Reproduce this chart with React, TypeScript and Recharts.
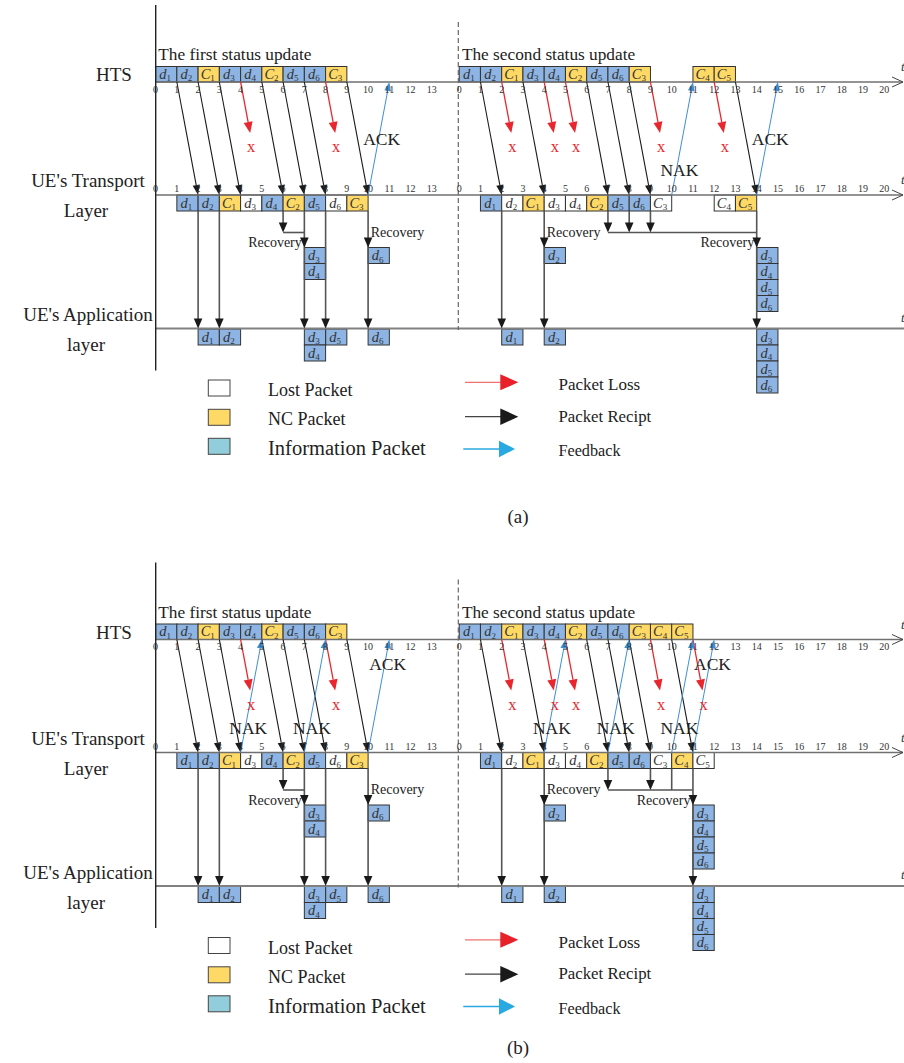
import React from 'react';
import { ComposedChart, XAxis, YAxis, Scatter, ReferenceArea, ReferenceLine, ReferenceDot } from 'recharts';

const W = 904;
const H = 1063;
const SERIF = '"Liberation Serif", "Times New Roman", serif';

// x is measured in time slots; the first timeline starts at slot 0
const SLOT_PX = 21.25;
const ORIGIN_PX = 155.6;
const ux = (px: number) => (px - ORIGIN_PX) / SLOT_PX;
const X_DOMAIN: [number, number] = [ux(0), ux(W)];
const SECOND = ux(459.2);

// vertical layout of one panel (page px), panel (b) is shifted down
const PANEL_DY = [0, 557.5];
const Y = {
  title: 60, htsTop: 66.5, hts: 82, htsTick: 92.5, trTick: 192, tr: 195, trBot: 211,
  lossEnd: 133, lossMark: 152, feed: 232.5, rec: 247.5, app: 328.5, appBox: 329,
  axisTop: 5, axisBot: 370.5, dashTop: 22, dashBot: 330,
};
const BOX_H = 16;

const COLORS: Record<string, string> = {
  d: '#8DB4E2', C: '#FFD966', lost: '#FFFFFF', legendInfo: '#92CDDC',
  red: '#E8262D', blue: '#3D8FD6', legendBlue: '#29A9E1', black: '#1a1a1a',
  drop: '#555555', axis: '#707070', text: '#222222',
};

// tick labels
const TICKS_FIRST = [0, 1, 2, 3, 4, 5, 6, 7, 8, 9, 10, 11, 12, 13];
const TICKS_SECOND = [0, 1, 2, 3, 4, 5, 6, 7, 8, 9, 10, 11, 12, 13, 14, 15, 16, 17, 18, 19, 20];

// packets sent by the HTS, their slots and whether they were lost (1)
const FIRST_PACKETS = ['d1', 'd2', 'C1', 'd3', 'd4', 'C2', 'd5', 'd6', 'C3'];
const FIRST_SLOTS = [0, 1, 2, 3, 4, 5, 6, 7, 8];
const FIRST_LOST = [0, 0, 0, 1, 0, 0, 0, 1, 0];

const SECOND_PACKETS = ['d1', 'd2', 'C1', 'd3', 'd4', 'C2', 'd5', 'd6', 'C3', 'C4', 'C5'];
const A2_SLOTS = [0, 1, 2, 3, 4, 5, 6, 7, 8, 11, 12];
const A2_LOST = [0, 1, 0, 1, 1, 0, 0, 0, 1, 1, 0];
const B2_SLOTS = [0, 1, 2, 3, 4, 5, 6, 7, 8, 9, 10];
const B2_LOST = [0, 1, 0, 1, 1, 0, 0, 0, 1, 0, 1];

// feedback: transport slot -> HTS slot
type Fb = { from: number; to: number; kind: string };
const A1_FEEDBACK: Fb[] = [{ from: 10, to: 11, kind: 'ACK' }];
const A2_FEEDBACK: Fb[] = [{ from: 10, to: 11, kind: 'NAK' }, { from: 14, to: 15, kind: 'ACK' }];
const B1_FEEDBACK: Fb[] = [{ from: 4, to: 5, kind: 'NAK' }, { from: 7, to: 8, kind: 'NAK' }, { from: 10, to: 11, kind: 'ACK' }];
const B2_FEEDBACK: Fb[] = [
  { from: 4, to: 5, kind: 'NAK' }, { from: 7, to: 8, kind: 'NAK' },
  { from: 10, to: 11, kind: 'NAK' }, { from: 11, to: 12, kind: 'ACK' },
];

// direct delivery to the application layer
type Dl = { at: number; pkts: string[] };
const FIRST_DELIVER: Dl[] = [{ at: 2, pkts: ['d1'] }, { at: 3, pkts: ['d2'] }, { at: 8, pkts: ['d5'] }];
const SECOND_DELIVER: Dl[] = [{ at: 2, pkts: ['d1'] }];

// decoding: packets feeding the decoder, decode slot and recovered packets
type Rc = { feeds: number[]; plain: number[]; at: number; pkts: string[] };
const FIRST_RECOVER: Rc[] = [
  { feeds: [6], plain: [], at: 7, pkts: ['d3', 'd4'] },
  { feeds: [], plain: [], at: 10, pkts: ['d6'] },
];
const A2_RECOVER: Rc[] = [
  { feeds: [], plain: [], at: 4, pkts: ['d2'] },
  { feeds: [7, 8, 9], plain: [], at: 14, pkts: ['d3', 'd4', 'd5', 'd6'] },
];
const B2_RECOVER: Rc[] = [
  { feeds: [], plain: [], at: 4, pkts: ['d2'] },
  { feeds: [7, 9], plain: [10], at: 11, pkts: ['d3', 'd4', 'd5', 'd6'] },
];

interface Half {
  offset: number; ticks: number[]; title: string; labels: string[]; slots: number[];
  lost: number[]; feedback: Fb[]; deliver: Dl[]; recover: Rc[];
}

const PANELS: { ackT: number; halves: Half[] }[] = [
  {
    ackT: 0.5,
    halves: [
      { offset: 0, ticks: TICKS_FIRST, title: 'The first status update', labels: FIRST_PACKETS, slots: FIRST_SLOTS, lost: FIRST_LOST, feedback: A1_FEEDBACK, deliver: FIRST_DELIVER, recover: FIRST_RECOVER },
      { offset: SECOND, ticks: TICKS_SECOND, title: 'The second status update', labels: SECOND_PACKETS, slots: A2_SLOTS, lost: A2_LOST, feedback: A2_FEEDBACK, deliver: SECOND_DELIVER, recover: A2_RECOVER },
    ],
  },
  {
    ackT: 0.78,
    halves: [
      { offset: 0, ticks: TICKS_FIRST, title: 'The first status update', labels: FIRST_PACKETS, slots: FIRST_SLOTS, lost: FIRST_LOST, feedback: B1_FEEDBACK, deliver: FIRST_DELIVER, recover: FIRST_RECOVER },
      { offset: SECOND, ticks: TICKS_SECOND, title: 'The second status update', labels: SECOND_PACKETS, slots: B2_SLOTS, lost: B2_LOST, feedback: B2_FEEDBACK, deliver: SECOND_DELIVER, recover: B2_RECOVER },
    ],
  },
];

const packetShape = (label: string, fill: string) => (p: any) => {
  const { x, y, width, height } = p;
  return (
    <g>
      <rect x={x} y={y} width={width} height={height} fill={fill} stroke="#333" strokeWidth={1} />
      <text x={x + width / 2 - 1} y={y + height / 2 + 4.5} textAnchor="middle" fontFamily={SERIF} fill="#333">
        <tspan fontSize={14.5} fontStyle="italic">{label[0]}</tspan>
        <tspan fontSize={9} dy={2.5}>{label.slice(1)}</tspan>
      </text>
    </g>
  );
};

const plainBox = (fill: string) => (p: any) => (
  <rect x={p.x} y={p.y} width={p.width} height={p.height} fill={fill} stroke="#444" strokeWidth={1} />
);

const arrowShape = (color: string, width: number, head = 0, half = 0, dash?: string) => (p: any) => {
  const x1 = Number(p.x1), y1 = Number(p.y1), x2 = Number(p.x2), y2 = Number(p.y2);
  const len = Math.hypot(x2 - x1, y2 - y1) || 1;
  const dx = (x2 - x1) / len, dy = (y2 - y1) / len;
  const bx = x2 - dx * head, by = y2 - dy * head;
  const nx = -dy * half, ny = dx * half;
  return (
    <g>
      <line x1={x1} y1={y1} x2={head ? bx : x2} y2={head ? by : y2} stroke={color} strokeWidth={width} strokeDasharray={dash} />
      {head > 0 && <polygon points={`${x2},${y2} ${bx + nx},${by + ny} ${bx - nx},${by - ny}`} fill={color} />}
    </g>
  );
};

const textShape = (str: string, size: number, color = COLORS.text, anchor = 'middle', italic = false) => (p: any) => (
  <text x={p.cx} y={p.cy} fontSize={size} fill={color} textAnchor={anchor} fontFamily={SERIF} fontStyle={italic ? 'italic' : 'normal'}>
    {str}
  </text>
);

function halfElements(h: Half, dy: number, ackT: number, key: string) {
  const els: React.ReactNode[] = [];
  const o = h.offset;
  let n = 0;
  const K = () => `${key}-${n++}`;
  const seg = (x1: number, y1: number, x2: number, y2: number, shape: any) => (
    <ReferenceLine key={K()} segment={[{ x: x1, y: y1 }, { x: x2, y: y2 }]} ifOverflow="visible" shape={shape} />
  );
  const txt = (x: number, y: number, shape: any) => (
    <ReferenceDot key={K()} x={x} y={y} r={0} ifOverflow="visible" shape={shape} />
  );
  const box = (x: number, y1: number, y2: number, label: string, fill: string) => (
    <ReferenceArea key={K()} x1={x} x2={x + 1} y1={y1} y2={y2} ifOverflow="visible" shape={packetShape(label, fill)} />
  );

  els.push(txt(o + ux(158.3) - ux(155.6), dy + Y.title, textShape(h.title, 17.3, COLORS.text, 'start')));

  h.ticks.forEach((t) => {
    els.push(txt(o + t, dy + Y.htsTick, textShape(String(t), 10, '#333')));
    els.push(txt(o + t, dy + Y.trTick, textShape(String(t), 10, '#333')));
  });

  const blackArrow = arrowShape(COLORS.black, 1.1, 10, 3.6);
  const dropArrow = arrowShape(COLORS.black, 1, 10, 4.3);
  const dropLine = arrowShape(COLORS.drop, 1.6);

  // deliveries and recoveries (drawn first, behind packets)
  h.deliver.forEach((d) => {
    els.push(seg(o + d.at, dy + Y.trBot, o + d.at, dy + Y.app - 9, dropLine));
    els.push(seg(o + d.at, dy + Y.app - 10, o + d.at, dy + Y.app, dropArrow));
    d.pkts.forEach((pk, j) => els.push(box(o + d.at, dy + Y.appBox + j * BOX_H, dy + Y.appBox + (j + 1) * BOX_H, pk, COLORS.d)));
  });

  h.recover.forEach((r) => {
    const starts = [...r.feeds, ...r.plain];
    r.feeds.forEach((f) => {
      els.push(seg(o + f, dy + Y.trBot, o + f, dy + Y.feed - 9, dropLine));
      els.push(seg(o + f, dy + Y.feed - 10, o + f, dy + Y.feed, dropArrow));
    });
    r.plain.forEach((f) => els.push(seg(o + f, dy + Y.trBot, o + f, dy + Y.feed, dropLine)));
    if (starts.length) {
      els.push(seg(o + Math.min(...starts), dy + Y.feed, o + r.at, dy + Y.feed, dropLine));
      els.push(txt(o + r.at - 0.12, dy + Y.rec - 0.5, textShape('Recovery', 14, COLORS.text, 'end')));
    } else {
      els.push(txt(o + r.at + 0.12, dy + Y.feed + 4, textShape('Recovery', 14, COLORS.text, 'start')));
    }
    els.push(seg(o + r.at, dy + Y.trBot, o + r.at, dy + Y.app - 9, dropLine));
    els.push(seg(o + r.at, dy + Y.rec - 10, o + r.at, dy + Y.rec, dropArrow));
    els.push(seg(o + r.at, dy + Y.app - 10, o + r.at, dy + Y.app, dropArrow));
    r.pkts.forEach((pk, j) => {
      els.push(box(o + r.at, dy + Y.rec + j * BOX_H, dy + Y.rec + (j + 1) * BOX_H, pk, COLORS.d));
      els.push(box(o + r.at, dy + Y.appBox + j * BOX_H, dy + Y.appBox + (j + 1) * BOX_H, pk, COLORS.d));
    });
  });

  h.labels.forEach((lab, i) => {
    const s = o + h.slots[i];
    const lost = h.lost[i] === 1;
    els.push(box(s, dy + Y.htsTop, dy + Y.hts, lab, COLORS[lab[0]]));
    els.push(box(s + 1, dy + Y.tr, dy + Y.trBot, lab, lost ? COLORS.lost : COLORS[lab[0]]));
    const b = s + 1;
    if (lost) {
      els.push(seg(b, dy + Y.hts, b + 0.45, dy + Y.lossEnd, arrowShape(COLORS.red, 1.3, 11, 4.5)));
      els.push(txt(b + 0.5, dy + Y.lossMark, textShape('x', 16.5, COLORS.red)));
    } else {
      els.push(seg(b, dy + Y.hts, b + 1, dy + Y.tr, blackArrow));
    }
  });

  h.feedback.forEach((f) => {
    els.push(seg(o + f.from, dy + Y.tr, o + f.to, dy + Y.hts, arrowShape(COLORS.blue, 1, 9, 3.4)));
    const t = f.kind === 'NAK' ? 0.22 : ackT;
    const lx = o + f.from + (f.to - f.from) * t + 0.14;
    const ly = dy + Y.tr - (Y.tr - Y.hts) * t + 6;
    els.push(txt(lx, ly, textShape(f.kind, 17.5)));
  });

  return els;
}

function panelFrame(dy: number, key: string) {
  const els: React.ReactNode[] = [];
  let n = 0;
  const K = () => `${key}-${n++}`;
  const seg = (x1: number, y1: number, x2: number, y2: number, shape: any) => (
    <ReferenceLine key={K()} segment={[{ x: x1, y: y1 }, { x: x2, y: y2 }]} ifOverflow="visible" shape={shape} />
  );
  const txt = (x: number, y: number, shape: any) => (
    <ReferenceDot key={K()} x={x} y={y} r={0} ifOverflow="visible" shape={shape} />
  );
  const axisLine = arrowShape(COLORS.axis, 1.5);

  [Y.hts, Y.tr].forEach((yy) => {
    els.push(seg(ux(155.7), dy + yy, ux(903), dy + yy, axisLine));
    els.push(seg(ux(892), dy + yy - 5, ux(903), dy + yy, arrowShape('#444', 1)));
    els.push(seg(ux(892), dy + yy + 5, ux(903), dy + yy, arrowShape('#444', 1)));
    els.push(txt(ux(901), dy + yy - 11, textShape('t', 13, '#333', 'start', true)));
  });
  els.push(seg(ux(155.7), dy + Y.app, ux(904), dy + Y.app, arrowShape('#808080', 1.8)));
  els.push(txt(ux(901), dy + Y.app - 7, textShape('t', 13, '#333', 'start', true)));

  els.push(seg(ux(155.7), dy + Y.axisTop, ux(155.7), dy + Y.axisBot, arrowShape('#222', 1.4)));
  els.push(seg(ux(458.3), dy + Y.dashTop, ux(458.3), dy + Y.dashBot, arrowShape('#666', 1.2, 0, 0, '5 3')));

  els.push(txt(ux(114), dy + 81, textShape('HTS', 19)));
  els.push(txt(ux(88), dy + 187, textShape("UE's Transport", 19)));
  els.push(txt(ux(86), dy + 217, textShape('Layer', 19)));
  els.push(txt(ux(88), dy + 321, textShape("UE's Application", 19)));
  els.push(txt(ux(86), dy + 351, textShape('layer', 19)));

  // legend
  const lbox = (y1: number, fill: string) => (
    <ReferenceArea key={K()} x1={ux(208.3)} x2={ux(230)} y1={dy + y1} y2={dy + y1 + 16} ifOverflow="visible" shape={plainBox(fill)} />
  );
  els.push(lbox(380, COLORS.lost));
  els.push(lbox(409.3, COLORS.C));
  els.push(lbox(438.3, COLORS.legendInfo));
  els.push(txt(ux(268), dy + 396, textShape('Lost Packet', 18, COLORS.text, 'start')));
  els.push(txt(ux(268), dy + 425, textShape('NC Packet', 18, COLORS.text, 'start')));
  els.push(txt(ux(268), dy + 455, textShape('Information Packet', 20.5, COLORS.text, 'start')));

  els.push(seg(ux(465), dy + 382.3, ux(502), dy + 382.3, arrowShape('#F07070', 1.3)));
  els.push(seg(ux(500), dy + 382.3, ux(518.3), dy + 382.3, arrowShape('#E8202A', 1, 18, 8)));
  els.push(seg(ux(465), dy + 416.7, ux(502), dy + 416.7, arrowShape('#444', 1.3)));
  els.push(seg(ux(500), dy + 416.7, ux(518.3), dy + 416.7, arrowShape('#1a1a1a', 1, 18, 8.3)));
  els.push(seg(ux(463.3), dy + 449, ux(501), dy + 449, arrowShape(COLORS.legendBlue, 1.3)));
  els.push(seg(ux(499), dy + 449, ux(515), dy + 449, arrowShape(COLORS.legendBlue, 1, 16, 8.3)));
  els.push(txt(ux(558.5), dy + 390, textShape('Packet Loss', 17, COLORS.text, 'start')));
  els.push(txt(ux(558.5), dy + 421.5, textShape('Packet Recipt', 16.8, COLORS.text, 'start')));
  els.push(txt(ux(558.5), dy + 456, textShape('Feedback', 16.2, COLORS.text, 'start')));
  return els;
}

export default function App() {
  const children: React.ReactNode[] = [];
  PANELS.forEach((panel, pi) => {
    const dy = PANEL_DY[pi];
    children.push(...panelFrame(dy, `f${pi}`));
    panel.halves.forEach((h, hi) => children.push(...halfElements(h, dy, panel.ackT, `h${pi}${hi}`)));
  });
  children.push(
    <ReferenceDot key="cap-a" x={ux(518)} y={523} r={0} ifOverflow="visible" shape={textShape('(a)', 19)} />,
    <ReferenceDot key="cap-b" x={ux(518)} y={1054} r={0} ifOverflow="visible" shape={textShape('(b)', 19)} />,
  );

  return (
    <div style={{ position: 'absolute', left: 0, top: 0, width: W, height: H, background: '#fff' }}>
      <ComposedChart width={W} height={H} margin={{ top: 0, right: 0, bottom: 0, left: 0 }}>
        <XAxis type="number" dataKey="x" domain={X_DOMAIN} hide allowDataOverflow />
        <YAxis type="number" dataKey="y" domain={[0, H]} reversed hide allowDataOverflow />
        <Scatter data={[]} dataKey="y" isAnimationActive={false} />
        {children}
      </ComposedChart>
    </div>
  );
}
